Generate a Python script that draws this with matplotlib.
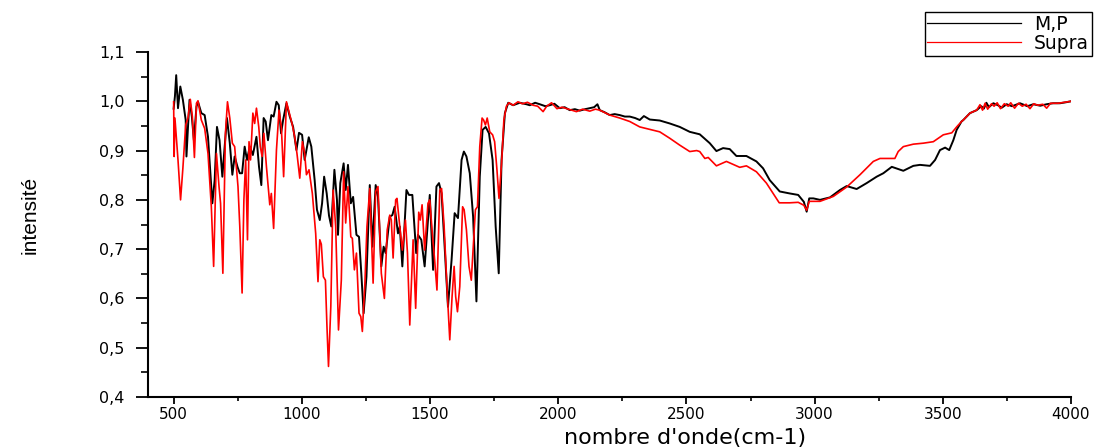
import matplotlib
matplotlib.use("Agg")
import matplotlib.pyplot as plt
from matplotlib.ticker import MultipleLocator, FuncFormatter

# M,P spectrum (wavenumber cm-1, intensity)
mp_x = [500, 505, 510, 517, 526, 536, 547, 550, 556, 562, 571, 579, 589, 595, 608, 621, 634, 651, 660, 669,
        679, 690, 699, 708, 719, 729, 738, 749, 758, 767, 777, 786, 797, 809, 823, 833, 842, 851, 859, 868,
        881, 890, 901, 910, 919, 927, 940, 953, 966, 979, 989, 1001, 1011, 1027, 1037, 1050, 1059, 1070, 1079, 1087,
        1097, 1106, 1115, 1127, 1137, 1141, 1150, 1163, 1171, 1180, 1191, 1200, 1213, 1223, 1232, 1241, 1252, 1265, 1275, 1288,
        1297, 1310, 1319, 1327, 1343, 1353, 1362, 1375, 1382, 1392, 1408, 1418, 1431, 1446, 1453, 1466, 1479, 1499, 1512, 1525,
        1535, 1545, 1557, 1570, 1584, 1596, 1609, 1623, 1632, 1642, 1655, 1668, 1681, 1694, 1705, 1717, 1730, 1744, 1756, 1768,
        1779, 1792, 1805, 1824, 1850, 1876, 1889, 1910, 1928, 1950, 1967, 1985, 2006, 2025, 2045, 2065, 2084, 2105, 2123, 2140,
        2153, 2162, 2180, 2201, 2220, 2240, 2260, 2279, 2300, 2318, 2334, 2357, 2396, 2435, 2474, 2513, 2552, 2591, 2617, 2643,
        2669, 2695, 2734, 2773, 2799, 2825, 2864, 2903, 2936, 2958, 2969, 2979, 2995, 3021, 3060, 3099, 3125, 3164, 3203, 3242,
        3268, 3301, 3346, 3385, 3411, 3450, 3470, 3489, 3509, 3525, 3541, 3554, 3573, 3580, 3606, 3632, 3650, 3660, 3670, 3680,
        3697, 3715, 3730, 3749, 3770, 3801, 3830, 3853, 3880, 3905, 3930, 3957, 3980, 4000]
mp_y = [0.985, 1.01, 1.053, 0.986, 1.03, 1.003, 0.962, 0.888, 0.948, 1.003, 0.969, 0.921, 0.989, 0.999, 0.976, 0.972, 0.928, 0.793, 0.840, 0.948,
        0.921, 0.847, 0.908, 0.966, 0.915, 0.851, 0.888, 0.867, 0.854, 0.854, 0.908, 0.881, 0.908, 0.891, 0.928, 0.867, 0.830, 0.966, 0.959, 0.921,
        0.972, 0.969, 0.999, 0.992, 0.935, 0.962, 0.996, 0.969, 0.948, 0.901, 0.936, 0.932, 0.881, 0.927, 0.908, 0.840, 0.780, 0.759, 0.793, 0.847,
        0.813, 0.768, 0.746, 0.861, 0.800, 0.729, 0.834, 0.874, 0.820, 0.871, 0.793, 0.806, 0.729, 0.725, 0.651, 0.570, 0.644, 0.830, 0.705, 0.830,
        0.806, 0.665, 0.705, 0.692, 0.766, 0.769, 0.786, 0.732, 0.746, 0.665, 0.820, 0.810, 0.810, 0.692, 0.729, 0.719, 0.665, 0.810, 0.658, 0.827,
        0.834, 0.813, 0.705, 0.583, 0.678, 0.773, 0.763, 0.881, 0.898, 0.888, 0.854, 0.766, 0.594, 0.847, 0.942, 0.948, 0.935, 0.881, 0.746, 0.651,
        0.881, 0.976, 0.997, 0.992, 0.997, 0.994, 0.992, 0.997, 0.994, 0.990, 0.992, 0.995, 0.986, 0.988, 0.982, 0.984, 0.981, 0.984, 0.986, 0.988,
        0.994, 0.982, 0.978, 0.972, 0.974, 0.972, 0.969, 0.969, 0.966, 0.962, 0.970, 0.963, 0.961, 0.955, 0.948, 0.938, 0.933, 0.915, 0.899, 0.905,
        0.903, 0.889, 0.889, 0.878, 0.864, 0.840, 0.817, 0.813, 0.810, 0.796, 0.776, 0.803, 0.803, 0.800, 0.805, 0.820, 0.828, 0.822, 0.834, 0.847,
        0.854, 0.867, 0.859, 0.869, 0.871, 0.869, 0.881, 0.901, 0.906, 0.901, 0.921, 0.942, 0.959, 0.962, 0.976, 0.982, 0.990, 0.985, 0.997, 0.988,
        0.996, 0.992, 0.987, 0.994, 0.990, 0.996, 0.990, 0.994, 0.991, 0.994, 0.996, 0.996, 0.998, 1.0]

# Supra spectrum
supra_x = [500, 502, 505, 517, 527, 536, 547, 556, 565, 573, 581, 589, 595, 608, 621, 634, 647, 656, 667, 677,
           683, 692, 702, 710, 719, 729, 738, 751, 758, 767, 774, 781, 788, 794, 800, 809, 816, 823, 832, 838,
           845, 852, 862, 875, 881, 890, 901, 911, 920, 929, 940, 953, 963, 972, 981, 992, 1002, 1011, 1018, 1028,
           1041, 1054, 1063, 1070, 1076, 1084, 1092, 1098, 1104, 1113, 1122, 1132, 1143, 1154, 1163, 1171, 1180, 1191, 1197, 1205,
           1213, 1223, 1230, 1236, 1246, 1254, 1265, 1278, 1288, 1297, 1310, 1322, 1333, 1343, 1349, 1356, 1366, 1371, 1382, 1392,
           1404, 1412, 1421, 1434, 1444, 1456, 1462, 1469, 1479, 1492, 1499, 1509, 1518, 1527, 1538, 1545, 1555, 1566, 1577, 1586,
           1594, 1600, 1607, 1616, 1627, 1633, 1642, 1652, 1661, 1670, 1677, 1685, 1694, 1703, 1709, 1716, 1723, 1733, 1744, 1752,
           1761, 1769, 1779, 1788, 1798, 1808, 1824, 1843, 1860, 1880, 1902, 1920, 1941, 1955, 1974, 1995, 2015, 2040, 2071, 2095,
           2123, 2145, 2162, 2201, 2240, 2279, 2318, 2357, 2396, 2435, 2474, 2513, 2540, 2552, 2572, 2585, 2617, 2656, 2708, 2734,
           2773, 2812, 2838, 2862, 2903, 2936, 2958, 2969, 2979, 3021, 3073, 3125, 3177, 3229, 3255, 3313, 3326, 3346, 3385, 3424,
           3463, 3502, 3535, 3554, 3573, 3580, 3606, 3632, 3645, 3655, 3665, 3675, 3690, 3700, 3712, 3725, 3740, 3755, 3765, 3780,
           3795, 3810, 3825, 3840, 3855, 3870, 3890, 3905, 3920, 3950, 3975, 4000]
supra_y = [0.999, 0.888, 0.966, 0.881, 0.800, 0.864, 0.952, 0.966, 1.004, 0.969, 0.886, 0.996, 1.001, 0.962, 0.945, 0.894, 0.786, 0.665, 0.894, 0.827,
           0.793, 0.651, 0.935, 0.999, 0.966, 0.915, 0.908, 0.827, 0.746, 0.611, 0.800, 0.881, 0.719, 0.918, 0.881, 0.976, 0.955, 0.986, 0.948, 0.908,
           0.888, 0.935, 0.867, 0.790, 0.813, 0.742, 0.901, 0.982, 0.948, 0.847, 0.999, 0.972, 0.952, 0.928, 0.894, 0.844, 0.918, 0.894, 0.851, 0.861,
           0.813, 0.732, 0.634, 0.719, 0.710, 0.644, 0.637, 0.543, 0.462, 0.583, 0.820, 0.746, 0.536, 0.637, 0.857, 0.753, 0.827, 0.725, 0.722, 0.658,
           0.692, 0.570, 0.563, 0.533, 0.631, 0.746, 0.823, 0.631, 0.817, 0.827, 0.651, 0.600, 0.739, 0.769, 0.759, 0.682, 0.800, 0.803, 0.746, 0.698,
           0.759, 0.692, 0.546, 0.719, 0.580, 0.775, 0.759, 0.790, 0.698, 0.793, 0.800, 0.732, 0.678, 0.617, 0.820, 0.823, 0.746, 0.624, 0.516, 0.604,
           0.665, 0.604, 0.573, 0.624, 0.786, 0.780, 0.739, 0.665, 0.637, 0.719, 0.780, 0.786, 0.908, 0.966, 0.962, 0.952, 0.966, 0.938, 0.932, 0.918,
           0.861, 0.803, 0.874, 0.962, 0.990, 0.997, 0.992, 0.999, 0.995, 0.998, 0.992, 0.990, 0.979, 0.990, 0.997, 0.985, 0.988, 0.984, 0.979, 0.984,
           0.980, 0.984, 0.982, 0.972, 0.966, 0.959, 0.948, 0.943, 0.938, 0.925, 0.911, 0.898, 0.900, 0.898, 0.884, 0.886, 0.869, 0.878, 0.866, 0.869,
           0.857, 0.834, 0.813, 0.794, 0.794, 0.795, 0.789, 0.779, 0.797, 0.797, 0.807, 0.826, 0.851, 0.878, 0.884, 0.884, 0.898, 0.908, 0.913, 0.915,
           0.918, 0.932, 0.936, 0.948, 0.959, 0.962, 0.976, 0.982, 0.993, 0.982, 0.996, 0.984, 0.995, 0.990, 0.997, 0.985, 0.995, 0.990, 0.997, 0.986,
           0.996, 0.990, 0.994, 0.985, 0.995, 0.992, 0.994, 0.986, 0.996, 0.996, 0.998, 1.0]

W, H = 1105, 447
fig = plt.figure(figsize=(W / 100, H / 100), dpi=100)
ax = fig.add_axes([148 / W, 1 - 397 / H, (1071 - 148) / W, (397 - 52) / H])

ax.plot(mp_x, mp_y, color='black', lw=1.4, label='M,P')
ax.plot(supra_x, supra_y, color='red', lw=1.2, label='Supra')

ax.set_xlim(400, 4000)
ax.set_ylim(0.4, 1.1)
ax.spines['top'].set_visible(False)
ax.spines['right'].set_visible(False)
for s in ('left', 'bottom'):
    ax.spines[s].set_linewidth(1.5)

ax.xaxis.set_minor_locator(MultipleLocator(250))
ax.yaxis.set_major_locator(MultipleLocator(0.1))
ax.yaxis.set_minor_locator(MultipleLocator(0.05))
ax.set_xticks([500, 1000, 1500, 2000, 2500, 3000, 3500, 4000])
ax.xaxis.set_major_formatter(FuncFormatter(lambda v, p: '%d' % v))
ax.yaxis.set_major_formatter(FuncFormatter(lambda v, p: ('%.1f' % v).replace('.', ',')))
ax.tick_params(axis='y', which='major', direction='out', length=9, width=1.3, labelsize=11.5, pad=8)
ax.tick_params(axis='y', which='minor', direction='out', length=5, width=1.2)
ax.tick_params(axis='x', which='major', direction='out', length=5, width=1.3, labelsize=11, pad=2)
ax.tick_params(axis='x', which='minor', direction='out', length=3, width=1.2)
for lab in ax.get_xticklabels() + ax.get_yticklabels():
    lab.set_family('DejaVu Sans')

fig.text(685 / W, 1 - 438 / H, "nombre d'onde(cm-1)", ha='center', va='center',
         fontsize=16, family='DejaVu Sans')
fig.text(30 / W, 1 - 215 / H, 'intensité', rotation=90, ha='center', va='center',
         fontsize=15, family=['Liberation Sans Narrow', 'Liberation Sans'])

leg = ax.legend(loc='upper right', bbox_to_anchor=(1092 / W, 1 - 12 / H),
                bbox_transform=fig.transFigure, frameon=True, fancybox=False,
                edgecolor='black', framealpha=1, handlelength=5.0, handletextpad=0.7,
                labelspacing=0.0, borderpad=0.15, borderaxespad=0,
                prop={'family': 'DejaVu Sans', 'size': 13.5})
leg.get_frame().set_linewidth(1.0)
for l in leg.get_lines():
    l.set_linewidth(0.9)

fig.savefig('out.png', dpi=100)
